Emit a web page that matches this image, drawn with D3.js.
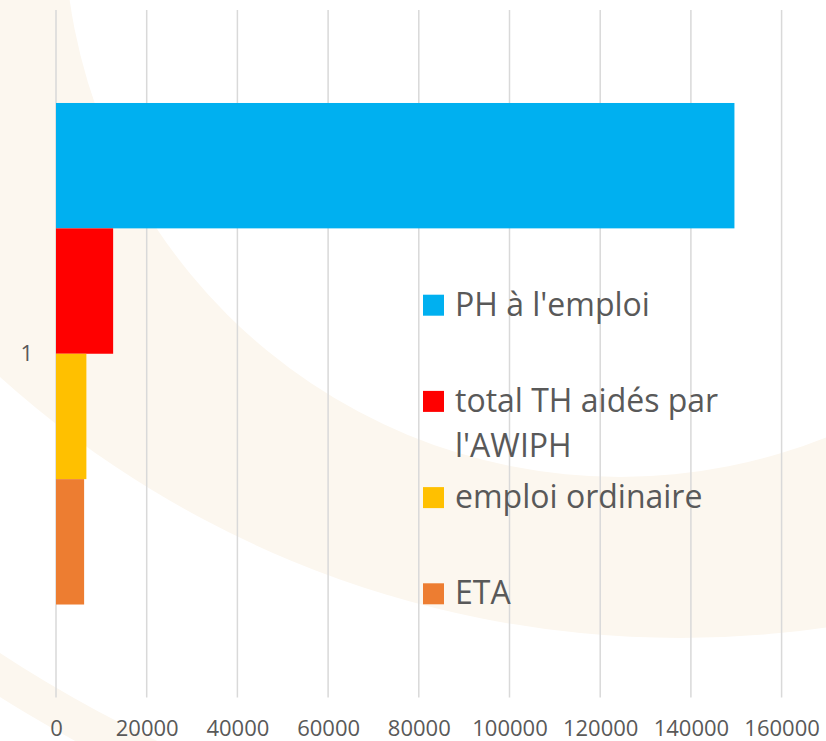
<!DOCTYPE html>
<head>
<meta charset="utf-8">
<style>
body { margin: 0; background: #fff; }
text { font-family: "Open Sans", sans-serif; fill: #595959; }
</style>
</head>
<div id="container"></div>
<script src="https://d3js.org/d3.v7.min.js"></script>
<script>
// Data.
const categories = ["1"];
const series = ["PH à l'emploi", "total TH aidés par l'AWIPH", "emploi ordinaire", "ETA"];
const values = [149600, 12600, 6700, 6200];
const colors = ["#00b0f0", "#ff0000", "#ffc000", "#ed7d31"];
const legendLines = [["PH à l'emploi"], ["total TH aidés par", "l'AWIPH"], ["emploi ordinaire"], ["ETA"]];
const xTicks = [0, 20000, 40000, 60000, 80000, 100000, 120000, 140000, 160000];

const width = 826;
const height = 741;
const marginTop = 10;
const marginBottom = 43.5;
const marginLeft = 56;

const x = d3.scaleLinear()
    .domain([0, 160000])
    .range([marginLeft, marginLeft + 8 * 90.7]);

const y = d3.scaleBand()
    .domain(categories)
    .range([marginTop, height - marginBottom])
    .paddingInner(0)
    .paddingOuter(0.1854);

const ySub = d3.scaleBand()
    .domain(series)
    .range([0, y.bandwidth()]);

const svg = d3.create("svg")
    .attr("width", width)
    .attr("height", height);

// Faint background rings of the slide.
const bg = svg.append("g");
bg.append("circle").attr("cx", 680).attr("cy", -378).attr("r", 1272).attr("fill", "#fcf7ef");
bg.append("circle").attr("cx", 680).attr("cy", -378).attr("r", 1235).attr("fill", "#fff");
bg.append("circle").attr("cx", 680).attr("cy", -378).attr("r", 1016).attr("fill", "#fcf7ef");
bg.append("circle").attr("cx", 620).attr("cy", -79).attr("r", 556).attr("fill", "#fff");

// Vertical gridlines.
svg.append("g")
    .selectAll("line")
    .data(xTicks)
    .join("line")
    .attr("x1", d => x(d))
    .attr("x2", d => x(d))
    .attr("y1", marginTop)
    .attr("y2", height - marginBottom)
    .attr("stroke", "#d9d9d9")
    .attr("stroke-width", 1.5);

// X axis labels.
const xAxis = svg.append("g")
    .attr("transform", `translate(0,${height - marginBottom})`)
    .call(d3.axisBottom(x).tickValues(xTicks).tickFormat(d3.format("d")).tickSize(0).tickPadding(23));
xAxis.select(".domain").remove();
xAxis.attr("font-size", 22).attr("font-family", null);
xAxis.selectAll("text").attr("fill", null);

// Y axis label.
const yAxis = svg.append("g")
    .attr("transform", `translate(${marginLeft},0)`)
    .call(d3.axisLeft(y).tickSize(0).tickPadding(23));
yAxis.select(".domain").remove();
yAxis.attr("font-size", 22).attr("font-family", null);
yAxis.selectAll("text").attr("fill", null);

// Bars.
svg.append("g")
    .selectAll("rect")
    .data(series.map((s, i) => ({s, v: values[i], c: colors[i]})))
    .join("rect")
    .attr("x", x(0))
    .attr("y", d => y(categories[0]) + ySub(d.s))
    .attr("width", d => x(d.v) - x(0))
    .attr("height", ySub.bandwidth())
    .attr("fill", d => d.c);

// Legend.
const legend = svg.append("g")
    .attr("transform", "translate(423,315.7)");
const item = legend.selectAll("g")
    .data(legendLines)
    .join("g")
    .attr("transform", (d, i) => `translate(0,${i * 96.2})`);
item.append("rect")
    .attr("y", -21)
    .attr("width", 21)
    .attr("height", 21)
    .attr("fill", (d, i) => colors[i]);
item.append("text")
    .attr("x", 32)
    .attr("font-size", 32)
    .selectAll("tspan")
    .data(d => d)
    .join("tspan")
    .attr("x", 32)
    .attr("dy", (d, i) => i === 0 ? 0 : 45)
    .text(d => d);

container.append(svg.node());
</script>
